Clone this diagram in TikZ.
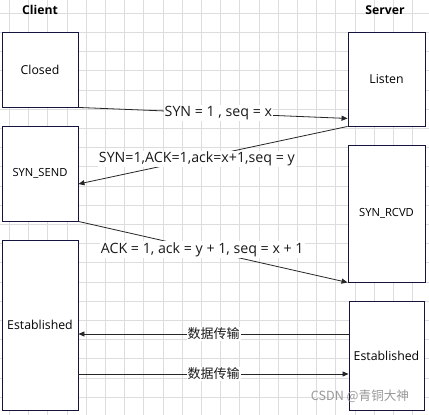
\documentclass[tikz,border=0pt]{standalone}
\usepackage{fontspec}
\setmainfont{Open Sans}
\newfontfamily\cjkfont{Noto Sans CJK SC}
\usetikzlibrary{arrows.meta}

\definecolor{boxnavy}{RGB}{20,20,60}
\definecolor{gridgrey}{RGB}{221,221,221}

\begin{document}
\begin{tikzpicture}[
    x=1pt, y=-1pt,
    state/.style={rectangle, draw=boxnavy, fill=white, line width=0.9pt,
                  inner sep=0pt, font=\fontsize{12.3}{14}\selectfont},
    msg/.style={-{Triangle[length=6pt, width=5pt]}, line width=0.8pt, black!85},
    msglabel/.style={fill=white, inner sep=1pt, text=black!90,
                     font=\fontsize{14.2}{16}\selectfont},
    side/.style={font=\bfseries\fontsize{12.2}{14}\selectfont}
]
    \useasboundingbox (0,0) rectangle (429,415);
    \fill[white] (0,0) rectangle (429,415);

    % background grid
    \foreach \gx in {0,...,21}
        \draw[gridgrey, line width=0.9pt] (9.5+19.2*\gx, 0) -- (9.5+19.2*\gx, 415);
    \foreach \gy in {0,...,20}
        \draw[gridgrey, line width=0.9pt] (0, 13.3+19.2*\gy) -- (429, 13.3+19.2*\gy);

    % headers
    \node[side] (client) at (40, 10) {Client};
    \node[side] (server) at (385, 10) {Server};

    % client states
    \node[state, minimum width=76pt, minimum height=75pt]  (closed)  at (40, 69.5)  {Closed};
    \node[state, minimum width=76pt, minimum height=95pt,
          font=\fontsize{11.2}{13}\selectfont]              (synsend) at (40, 173.5) {SYN\_SEND};
    \node[state, minimum width=76pt, minimum height=170pt] (cliest)  at (40, 325)   {Established};

    % server states
    \node[state, minimum width=77pt, minimum height=94pt]  (listen)  at (386.5, 79)    {Listen};
    \node[state, minimum width=77pt, minimum height=137pt,
          font=\fontsize{11.2}{13}\selectfont]              (synrcvd) at (386.5, 213.5)  {SYN\_RCVD};
    \node[state, minimum width=75pt, minimum height=109pt] (srvest)  at (386.5, 355.5)  {Established};

    % handshake
    \draw[msg] (closed.south east) -- node[msglabel, pos=0.52] (syn) {SYN = 1 , seq = x}
        ([yshift=8pt]listen.south west);
    \draw[msg] (listen.south west) -- node[msglabel, pos=0.56] (synack) {SYN=1,ACK=1,ack=x+1,seq = y}
        ([yshift=-10.5pt]synsend.east);
    \draw[msg] (synsend.south east) -- node[msglabel, pos=0.46] (ack) {ACK = 1, ack = y + 1, seq = x + 1}
        (synrcvd.south west);

    % data transfer
    \draw[msg] ([yshift=21.5pt]srvest.west) -- node[msglabel, font=\cjkfont\fontsize{13}{15}\selectfont] (datal) {数据传输}
        ([yshift=-9pt]cliest.east);
    \draw[msg] ([yshift=-49pt]cliest.east) -- node[msglabel, font=\cjkfont\fontsize{13}{15}\selectfont] (datar) {数据传输}
        ([yshift=-18.5pt]srvest.west);

    % watermark
    \node[text=black!40, font=\cjkfont\fontsize{12.6}{14}\selectfont] (mark) at (360, 396) {CSDN @青铜大神};
\end{tikzpicture}
\end{document}
